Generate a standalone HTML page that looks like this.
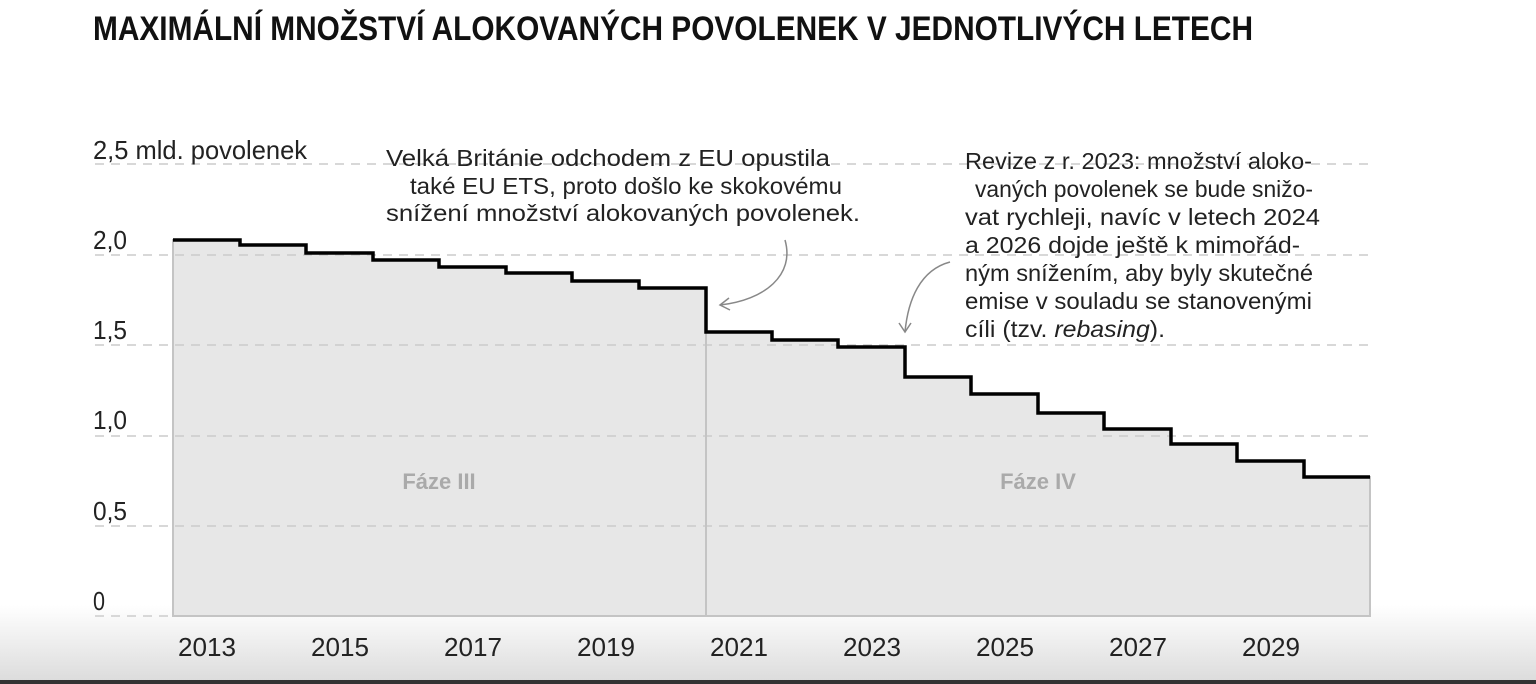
<!DOCTYPE html>
<html><head><meta charset="utf-8"><style>
html,body{margin:0;padding:0;width:1536px;height:684px;overflow:hidden;background:#fff}
svg{display:block}
text{font-family:"Liberation Sans Narrow","Liberation Sans",sans-serif}
.ax{font-size:26px;fill:#222}
.an{font-family:"Liberation Sans",sans-serif;font-size:23px;fill:#222}
</style></head><body>
<svg width="1536" height="684" viewBox="0 0 1536 684">
<defs><linearGradient id="g" x1="0" y1="0" x2="0" y2="1">
<stop offset="0" stop-color="#fff"/><stop offset="1" stop-color="#dcdcdc"/></linearGradient></defs>
<rect x="0" y="605" width="1536" height="76" fill="url(#g)"/>
<rect x="0" y="680" width="1536" height="4" fill="#333"/>
<text x="93" y="40" font-size="34" font-weight="bold" textLength="1160" lengthAdjust="spacingAndGlyphs" fill="#111">MAXIMÁLNÍ MNOŽSTVÍ ALOKOVANÝCH POVOLENEK V JEDNOTLIVÝCH LETECH</text>
<path d="M173,616 V240 H240 V245 H306 V253 H373 V260 H439 V267 H506 V273 H572 V281 H639 V288 H706 V332 H772 V340 H838 V347 H905 V377 H971 V394 H1038 V413 H1104 V429 H1171 V444 H1237 V461 H1304 V477 H1370 V616 Z" fill="#e7e7e7" stroke="#c4c4c4" stroke-width="2"/>
<g stroke="#ccc" stroke-width="1.5" stroke-dasharray="9,7">
<line x1="95" y1="164" x2="1370" y2="164"/><line x1="95" y1="255" x2="1370" y2="255"/>
<line x1="95" y1="345" x2="1370" y2="345"/><line x1="95" y1="436" x2="1370" y2="436"/>
<line x1="95" y1="526" x2="1370" y2="526"/><line x1="95" y1="616" x2="173" y2="616"/>
</g>
<line x1="706" y1="332" x2="706" y2="616" stroke="#c4c4c4" stroke-width="2"/>
<path d="M173,240 H240 V245 H306 V253 H373 V260 H439 V267 H506 V273 H572 V281 H639 V288 H706 V332 H772 V340 H838 V347 H905 V377 H971 V394 H1038 V413 H1104 V429 H1171 V444 H1237 V461 H1304 V477 H1370" fill="none" stroke="#000" stroke-width="3.5"/>
<g class="ax">
<text x="93" y="159" textLength="214" lengthAdjust="spacingAndGlyphs">2,5 mld. povolenek</text>
<text x="93" y="249" textLength="34" lengthAdjust="spacingAndGlyphs">2,0</text>
<text x="93" y="339" textLength="34" lengthAdjust="spacingAndGlyphs">1,5</text>
<text x="93" y="429" textLength="34" lengthAdjust="spacingAndGlyphs">1,0</text>
<text x="93" y="520" textLength="34" lengthAdjust="spacingAndGlyphs">0,5</text>
<text x="93" y="610" textLength="12" lengthAdjust="spacingAndGlyphs">0</text>
</g>
<g class="ax">
<text x="178" y="656" textLength="58" lengthAdjust="spacingAndGlyphs">2013</text>
<text x="311" y="656" textLength="58" lengthAdjust="spacingAndGlyphs">2015</text>
<text x="444" y="656" textLength="58" lengthAdjust="spacingAndGlyphs">2017</text>
<text x="577" y="656" textLength="58" lengthAdjust="spacingAndGlyphs">2019</text>
<text x="710" y="656" textLength="58" lengthAdjust="spacingAndGlyphs">2021</text>
<text x="843" y="656" textLength="58" lengthAdjust="spacingAndGlyphs">2023</text>
<text x="976" y="656" textLength="58" lengthAdjust="spacingAndGlyphs">2025</text>
<text x="1109" y="656" textLength="58" lengthAdjust="spacingAndGlyphs">2027</text>
<text x="1242" y="656" textLength="58" lengthAdjust="spacingAndGlyphs">2029</text>
</g>
<text x="439" y="489" text-anchor="middle" font-size="22" font-weight="bold" fill="#aaa">Fáze III</text>
<text x="1038" y="489" text-anchor="middle" font-size="22" font-weight="bold" fill="#aaa">Fáze IV</text>
<g class="an">
<text x="386" y="166" textLength="444" lengthAdjust="spacingAndGlyphs">Velká Británie odchodem z EU opustila</text>
<text x="410" y="194" textLength="432" lengthAdjust="spacingAndGlyphs">také EU ETS, proto došlo ke skokovému</text>
<text x="386" y="221" textLength="474" lengthAdjust="spacingAndGlyphs">snížení množství alokovaných povolenek.</text>
<text x="965" y="169" textLength="347" lengthAdjust="spacingAndGlyphs">Revize z r. 2023: množství aloko-</text>
<text x="975" y="197" textLength="338" lengthAdjust="spacingAndGlyphs">vaných povolenek se bude snižo-</text>
<text x="965" y="225" textLength="355" lengthAdjust="spacingAndGlyphs">vat rychleji, navíc v letech 2024</text>
<text x="965" y="253" textLength="335" lengthAdjust="spacingAndGlyphs">a 2026 dojde ještě k mimořád-</text>
<text x="965" y="281" textLength="348" lengthAdjust="spacingAndGlyphs">ným snížením, aby byly skutečné</text>
<text x="965" y="309" textLength="347" lengthAdjust="spacingAndGlyphs">emise v souladu se stanovenými</text>
<text x="965" y="337" textLength="200" lengthAdjust="spacingAndGlyphs">cíli (tzv. <tspan font-style="italic">rebasing</tspan>).</text>
</g>
<g fill="none" stroke="#888" stroke-width="1.5">
<path d="M785,240 C795,275 765,300 720,305"/>
<path d="M729,298 L720,305 L730,310"/>
<path d="M950,262 C920,270 908,300 905,332"/>
<path d="M899,323 L905,332 L911,323"/>
</g>
</svg>
</body></html>
